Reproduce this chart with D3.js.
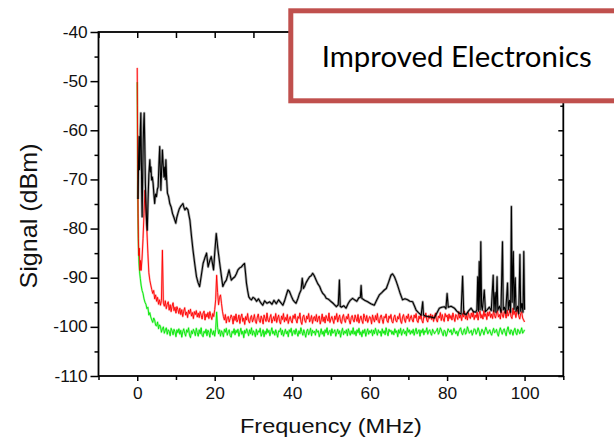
<!DOCTYPE html>
<html><head><meta charset="utf-8">
<script src="https://cdn.jsdelivr.net/npm/d3@7"></script>
<style>body{margin:0;background:#fff;} svg{display:block;}</style>
</head><body><svg id="c" width="614" height="439"></svg>
<script>
// ---------- data ----------
const xMajorTicks = [0, 20, 40, 60, 80, 100];
const xMinorTicks = [-10, 10, 30, 50, 70, 90, 110];
const yMajorTicks = [-110, -100, -90, -80, -70, -60, -50, -40];
const yMinorTicks = [-105, -95, -85, -75, -65, -55, -45];
const xTitle = "Frequency (MHz)";
const yTitle = "Signal (dBm)";
const boxText = "Improved Electronics";

// sampled grid for red / green traces (MHz)
const gridStart = 1.0, gridStep = 0.25;

const greenHead = [[0,-50.2],[0.05,-58],[0.1,-66],[0.15,-73],[0.2,-78],[0.3,-83.5],[0.45,-87],[0.6,-88.8],[0.8,-90.2]];
const greenValues = [
-91.5,-92.6,-93.2,-94.3,-95.0,-95.4,-96.3,-96.0,-97.6,-97.1,-98.0,-98.6,-99.1,-98.2,-98.6,-99.7,-99.8,-99.0,-100.4,-99.6,
-99.9,-101.1,-100.4,-100.0,-101.3,-100.7,-100.2,-101.5,-100.6,-100.9,-101.8,-100.3,-100.8,-101.6,-100.5,-101.0,-102.0,-100.6,-101.2,-100.4,
-101.5,-100.7,-102.1,-101.0,-100.4,-101.3,-101.9,-100.6,-101.1,-100.2,-101.7,-102.2,-100.8,-101.4,-100.5,-101.0,-101.8,-100.3,-101.2,-101.9,
-100.6,-101.4,-100.2,-101.7,-102.0,-100.9,-101.3,-100.5,-101.8,-100.7,-101.1,-102.1,-100.4,-101.0,-101.6,-100.8,-101.9,-100.5,-97.0,-100.1,
-101.4,-100.6,-101.9,-100.8,-101.2,-102.0,-100.5,-101.1,-100.3,-101.7,-101.0,-100.6,-101.8,-102.1,-100.9,-101.3,-100.4,-101.6,-100.7,-101.2,
-100.5,-101.9,-101.1,-100.3,-101.5,-100.9,-102.2,-100.7,-101.3,-100.4,-101.0,-101.8,-100.6,-101.4,-100.2,-101.7,-100.8,-101.2,-102.0,-100.5,
-101.6,-100.8,-101.1,-100.3,-101.9,-101.3,-100.6,-102.0,-100.9,-101.5,-100.4,-101.2,-100.7,-101.8,-101.0,-100.2,-101.4,-100.9,-101.7,-100.6,
-101.3,-102.1,-100.8,-101.0,-100.3,-101.6,-100.7,-101.9,-101.2,-100.5,-101.4,-100.9,-102.0,-100.6,-101.1,-100.3,-101.8,-101.0,-100.7,-101.5,
-100.4,-101.2,-101.9,-100.8,-101.4,-100.2,-101.0,-101.7,-100.6,-101.3,-102.1,-100.9,-100.5,-101.6,-101.1,-100.3,-101.8,-100.7,-101.2,-100.9,
-101.7,-100.5,-101.1,-100.8,-102.0,-101.3,-100.4,-101.5,-100.9,-101.9,-100.6,-101.2,-100.2,-101.6,-101.0,-100.7,-101.8,-100.4,-101.3,-101.0,
-100.6,-101.9,-101.2,-100.5,-101.4,-100.8,-102.1,-101.0,-100.3,-101.6,-100.9,-101.3,-100.6,-101.8,-100.4,-101.1,-101.7,-100.8,-101.4,-100.2,
-101.5,-100.9,-101.8,-100.6,-101.2,-100.3,-101.6,-101.0,-102.0,-100.7,-101.3,-100.5,-101.9,-101.1,-100.4,-101.5,-100.8,-101.2,-100.6,-101.8,
-100.7,-101.4,-100.3,-101.0,-101.7,-100.6,-101.2,-100.9,-101.9,-100.4,-101.3,-100.8,-101.6,-100.2,-101.1,-101.8,-100.5,-101.0,-100.7,-101.5,
-100.9,-101.6,-100.4,-101.2,-100.8,-102.0,-100.6,-101.3,-100.3,-101.7,-101.0,-100.5,-101.4,-100.9,-101.8,-100.2,-101.1,-100.6,-101.5,-100.8,
-101.3,-100.5,-101.7,-100.9,-100.3,-101.4,-101.0,-100.6,-101.9,-100.7,-101.2,-100.4,-101.6,-100.8,-101.1,-100.2,-101.5,-100.9,-100.6,-101.3,
-101.7,-100.5,-100.9,-101.4,-101.0,-100.8,-100.3,-101.5,-101.1,-100.2,-100.6,-101.3,-101.8,-100.7,-100.9,-101.9,-101.4,-100.4,-100.8,-101.1,
-100.6,-101.6,-101.2,-100.3,-100.9,-101.4,-100.9,-101.8,-101.0,-100.5,-100.2,-101.2,-101.6,-100.8,-100.4,-101.5,-101.2,-100.0,-100.6,-101.3,
-101.0,-100.7,-101.7,-101.1,-100.4,-100.6,-101.5,-101.0,-100.2,-100.8,-101.8,-101.2,-100.5,-100.9,-101.6,-100.8,-100.1,-100.7,-101.4,-101.0,
-100.6,-101.3,-101.7,-100.9,-100.3,-101.2,-101.0,-100.5,-101.4,-101.9,-100.8,-100.2,-100.9,-101.5,-100.7,-100.4,-101.2,-101.8,-100.6,-100.0,
-101.0,-101.5,-100.6,-100.9,-101.7,-100.8,-100.3,-101.2,-101.6,-100.5,-100.8,-101.4,-100.9,-100.2,-101.3,-101.0,-100.6
];

const redHead = [[0,-47.3],[0.05,-55],[0.1,-63],[0.15,-70],[0.22,-77],[0.3,-82],[0.4,-85.5],[0.55,-84],[0.7,-88.5],[0.85,-86.5]];
const redValues = [
-88.5,-86.0,-82.0,-77.0,-72.2,-76.0,-80.5,-85.0,-89.0,-90.5,-91.5,-92.4,-93.2,-92.6,-94.3,-93.5,-94.8,-94.0,-95.4,-94.5,
-95.6,-94.6,-84.4,-95.2,-95.8,-94.7,-96.3,-95.4,-94.9,-96.6,-95.5,-96.9,-95.8,-95.1,-96.7,-96.0,-97.2,-95.9,-96.5,-97.3,
-96.2,-97.5,-96.5,-97.9,-96.8,-96.1,-97.6,-97.0,-98.1,-96.6,-97.3,-96.4,-97.8,-97.1,-98.3,-96.9,-97.5,-96.7,-98.0,-97.2,
-98.1,-96.9,-97.6,-98.4,-97.2,-96.8,-98.6,-97.4,-98.0,-97.1,-98.3,-96.9,-97.8,-98.5,-97.3,-97.9,-96.5,-94.5,-89.5,-93.0,
-95.5,-94.0,-93.5,-95.2,-96.8,-97.9,-98.6,-97.5,-99.2,-98.1,-97.9,-99.0,-98.3,-97.6,-98.1,-99.4,-97.8,-98.7,-97.4,-99.0,
-98.5,-97.6,-99.3,-98.0,-97.4,-98.9,-98.2,-99.5,-97.9,-98.6,-97.3,-98.8,-99.2,-98.1,-97.7,-99.0,-98.4,-97.5,-98.9,-99.3,
-98.0,-97.4,-98.7,-99.1,-97.8,-98.4,-99.4,-97.6,-98.3,-98.9,-97.2,-98.6,-99.0,-98.1,-97.5,-99.2,-98.5,-97.9,-98.8,-97.3,
-99.1,-98.2,-97.6,-98.9,-99.4,-97.8,-98.5,-97.3,-99.0,-98.1,-98.7,-97.5,-99.3,-98.4,-97.9,-98.8,-99.2,-97.7,-98.3,-97.4,
-98.6,-99.2,-97.9,-98.3,-97.2,-98.9,-99.5,-98.0,-97.6,-98.7,-99.1,-97.8,-98.4,-97.3,-99.0,-98.5,-97.7,-99.3,-98.2,-97.9,
-98.8,-97.5,-99.0,-98.2,-97.8,-99.4,-98.6,-97.4,-98.9,-98.0,-99.2,-97.7,-98.3,-98.8,-97.2,-99.1,-98.4,-97.9,-98.6,-99.3,
-97.8,-98.5,-97.3,-99.0,-98.2,-97.6,-98.9,-99.3,-98.0,-97.5,-98.7,-99.1,-97.9,-98.4,-97.4,-98.8,-99.4,-98.1,-97.7,-98.6,
-99.0,-97.6,-98.3,-98.9,-97.5,-99.2,-98.4,-97.8,-98.7,-99.3,-97.4,-98.1,-98.8,-97.7,-99.1,-98.5,-97.9,-98.2,-99.4,-97.6,
-98.4,-99.0,-97.7,-98.6,-97.3,-98.9,-99.2,-98.0,-97.6,-98.5,-99.3,-97.9,-98.2,-97.4,-98.8,-99.1,-97.8,-98.3,-97.5,-98.9,
-99.2,-98.1,-97.6,-98.7,-99.0,-97.9,-98.4,-97.3,-98.8,-99.3,-98.0,-97.5,-98.6,-99.1,-97.8,-98.3,-97.4,-98.9,-98.2,-97.7,
-98.6,-99.0,-97.6,-98.2,-97.3,-98.8,-99.1,-97.8,-98.4,-97.5,-98.7,-99.2,-97.9,-98.1,-97.2,-98.6,-99.0,-97.7,-98.3,-97.4,
-98.5,-97.6,-98.9,-97.9,-97.2,-98.6,-99.0,-97.8,-98.2,-97.1,-98.7,-97.5,-98.4,-98.9,-97.3,-98.0,-97.6,-98.8,-97.4,-98.3,
-97.7,-98.6,-97.2,-98.1,-98.9,-97.5,-97.9,-98.5,-96.9,-98.2,-97.6,-98.7,-97.3,-98.0,-96.8,-98.4,-97.7,-98.6,-97.1,-97.9,
-98.3,-97.2,-98.0,-96.9,-98.5,-97.6,-98.1,-97.0,-98.6,-97.4,-96.8,-98.2,-97.5,-98.4,-96.7,-97.9,-97.3,-98.5,-97.0,-97.8,
-96.9,-98.1,-97.4,-98.3,-96.6,-97.7,-98.2,-97.1,-96.7,-98.0,-97.5,-98.4,-96.5,-97.6,-98.1,-96.9,-97.3,-98.2,-96.6,-97.8,
-97.2,-96.4,-97.9,-98.3,-96.2,-97.5,-96.8,-98.1,-97.0,-96.5,-97.8,-98.4,-97.3,-96.9,-98.2,-98.6,-99.0
];

// black trace, [MHz, dBm]
const blackTrace = [
[0.2,-74],[0.35,-66],[0.5,-61.3],[0.6,-68],[0.7,-66],[0.8,-60],[0.93,-56.5],[1.05,-64],[1.15,-72],[1.27,-77.6],
[1.4,-70],[1.55,-62],[1.7,-58],[1.8,-56.5],[1.95,-63],[2.1,-70.8],[2.3,-76],[2.45,-79],[2.6,-80.3],[2.8,-74],
[3.0,-69],[3.25,-66],[3.4,-68.5],[3.55,-67.5],[3.7,-70.1],[3.9,-69.5],[4.1,-70.8],[4.3,-73],[4.5,-74.9],[4.7,-73],
[4.97,-73.5],[5.2,-72],[5.4,-71.5],[5.6,-67],[5.8,-63.3],[5.95,-68],[6.1,-72.2],[6.3,-68],[6.5,-64.0],[6.7,-67],
[6.9,-69.5],[7.1,-67.5],[7.25,-70],[7.4,-66],[7.6,-70],[7.8,-72.8],[8.1,-73.5],[8.4,-74.9],[8.75,-75.6],[9.1,-76.9],
[9.5,-77.8],[9.95,-78.9],[10.2,-77.8],[10.5,-76.9],[10.85,-76.0],[11.2,-75.5],[11.5,-75.2],[11.8,-74.9],[12.05,-75.7],[12.3,-76.2],
[12.7,-75.8],[13.1,-76.2],[13.35,-77.3],[13.6,-78.3],[14.0,-81.5],[14.4,-84.4],[14.85,-87.2],[15.3,-89.8],[15.7,-91.0],[16.1,-91.8],
[16.55,-89.5],[17.0,-87.1],[17.45,-86.0],[17.9,-85.0],[18.3,-87.8],[18.7,-86.6],[19.1,-85.7],[19.4,-87.0],[19.7,-88.4],[20.05,-84.5],
[20.4,-81.0],[20.8,-84],[21.3,-87.1],[21.7,-89.5],[22.1,-91.8],[22.55,-91.0],[23.0,-90.5],[23.35,-89.5],[23.7,-88.4],[24.0,-89.5],
[24.3,-90.5],[24.75,-90.1],[25.2,-89.8],[25.6,-89.2],[26.0,-88.4],[26.45,-88.0],[26.9,-87.8],[27.3,-87.4],[27.7,-87.1],[27.95,-89],
[28.2,-91.1],[28.5,-92.6],[28.8,-93.9],[29.15,-94.3],[29.5,-94.5],[29.9,-94.0],[30.3,-94.2],[30.8,-94.8],[31.3,-94.3],[31.8,-95.0],
[32.4,-95.6],[32.9,-94.7],[33.5,-95.2],[34.2,-94.9],[34.8,-95.4],[35.3,-94.6],[35.9,-95.3],[36.5,-94.5],[37.0,-95.0],[37.6,-95.6],
[38.0,-94.8],[38.5,-93.5],[38.9,-92.5],[39.3,-92.8],[39.8,-93.8],[40.2,-94.5],[40.6,-94.9],[41.0,-95.2],[41.5,-94.2],[41.9,-93.2],
[42.3,-92.5],[42.6,-90.1],[42.9,-92.2],[43.2,-91.8],[43.6,-91.0],[44.1,-90.3],[44.5,-89.8],[44.9,-89.6],[45.3,-89.1],[45.7,-89.6],
[46.2,-90.5],[46.6,-91.2],[47.1,-91.8],[47.5,-92.6],[47.9,-93.2],[48.4,-93.6],[48.8,-94.2],[49.4,-94.4],[50.1,-94.9],[50.7,-95.3],
[51.4,-95.9],[51.9,-95.5],[52.2,-90.5],[52.4,-95.8],[52.7,-96.0],[53.3,-95.7],[53.9,-96.2],[54.5,-95.2],[55.0,-94.6],[55.6,-94.2],
[56.1,-94.5],[56.7,-94.8],[57.2,-94.1],[57.6,-94.0],[57.8,-91.6],[58.0,-94.2],[58.7,-94.6],[59.5,-94.9],[60.3,-95.3],[61.2,-95.6],
[61.8,-94.6],[62.5,-93.5],[63.2,-93.0],[63.8,-92.5],[64.3,-92.2],[64.9,-90.9],[65.5,-89.5],[65.9,-89.2],[66.4,-89.8],[66.8,-90.6],
[67.2,-91.5],[67.8,-93.0],[68.5,-94.5],[69.1,-94.3],[69.8,-94.5],[70.4,-94.8],[71.1,-94.9],[71.6,-95.8],[72.0,-96.6],[72.6,-97.1],
[73.3,-97.6],[73.7,-94.9],[73.9,-97.6],[74.4,-97.8],[75.0,-97.9],[75.8,-98.0],[76.7,-98.2],[77.3,-97.3],[78.0,-96.2],[78.6,-96.0],
[79.3,-95.9],[79.7,-96.3],[80.0,-93.2],[80.3,-96.0],[81.0,-95.8],[81.9,-96.2],[82.5,-96.8],[83.1,-97.2],[83.6,-97.4],[84.0,-89.7],
[84.3,-97.3],[84.9,-97.5],[85.5,-96.8],[86.2,-96.2],[86.8,-96.9],[87.4,-97.0],[87.7,-96.5],[87.9,-89.8],[88.1,-96.8],[88.3,-86.7],
[88.5,-96.5],[88.7,-82.7],[88.9,-95.8],[89.1,-96.6],[89.6,-92.5],[89.9,-96.9],[90.4,-96.5],[90.9,-96.0],[91.4,-96.7],[91.9,-89.5],
[92.1,-96.8],[92.4,-93.0],[92.6,-97.0],[92.9,-89.8],[93.1,-96.6],[93.5,-95.8],[93.9,-97.0],[94.3,-82.7],[94.5,-96.5],[94.8,-96.0],
[95.1,-97.2],[95.6,-91.1],[95.8,-96.5],[96.1,-94.6],[96.4,-97.0],[96.6,-75.5],[96.8,-95.0],[97.1,-84.7],[97.3,-96.4],[97.6,-90.0],
[97.8,-96.8],[98.2,-95.8],[98.5,-97.3],[98.8,-85.3],[99.0,-96.8],[99.3,-95.2],[99.6,-97.0],[99.8,-84.7],[100,-96.5]
];

// ---------- chart ----------
const svg = d3.select("#c");
const L = 98.5, R = 563.3, T = 32, B = 376;
const x = d3.scaleLinear().domain([-10, 110]).range([L, R]);
const y = d3.scaleLinear().domain([-110, -40]).range([B, T]);
const FONT = "'Liberation Sans', Arial, sans-serif";
const fmt = d => String(d);

function gridSeries(head, vals) {
  return head.concat(vals.map((v, i) => [gridStart + i * gridStep, v]));
}
const greenData = gridSeries(greenHead, greenValues);
const redData = gridSeries(redHead, redValues);

const line = d3.line().x(d => x(d[0])).y(d => y(d[1]));

function trace(data, color, w, haloW, haloO) {
  svg.append("path").datum(data).attr("d", line)
    .attr("fill", "none").attr("stroke", color).attr("stroke-width", haloW)
    .attr("stroke-opacity", haloO).attr("stroke-linejoin", "round");
  svg.append("path").datum(data).attr("d", line)
    .attr("fill", "none").attr("stroke", color).attr("stroke-width", w)
    .attr("stroke-linejoin", "round");
}
trace(greenData, "#00e600", 0.9, 2.0, 0.3);
trace(redData, "#ff0000", 0.9, 2.0, 0.3);
trace(blackTrace, "#000000", 1.1, 2.6, 0.35);

function styleAxis(g) {
  g.select(".domain").remove();
  g.selectAll(".tick line").attr("stroke", "#000").attr("stroke-width", 1.5);
  g.selectAll("text").attr("font-family", FONT).attr("font-size", 16).attr("fill", "#111");
}

// left axis
svg.append("g").attr("transform", `translate(${L},0)`)
  .call(d3.axisLeft(y).tickValues(yMajorTicks).tickSize(8).tickPadding(2).tickFormat(fmt))
  .call(styleAxis)
  .call(g => g.selectAll("text").attr("transform", "scale(1.08,1)"));
svg.append("g").attr("transform", `translate(${L},0)`)
  .call(d3.axisLeft(y).tickValues(yMinorTicks).tickSize(4).tickFormat(""))
  .call(styleAxis);

// bottom axis
svg.append("g").attr("transform", `translate(0,${B})`)
  .call(d3.axisBottom(x).tickValues(xMajorTicks).tickSize(5).tickPadding(7).tickFormat(fmt))
  .call(styleAxis)
  .call(g => g.selectAll("text").attr("transform", "scale(1.08,1)"));
svg.append("g").attr("transform", `translate(0,${B})`)
  .call(d3.axisBottom(x).tickValues(xMinorTicks).tickSize(4).tickFormat(""))
  .call(styleAxis);

// top axis (inward)
svg.append("g").attr("transform", `translate(0,${T})`)
  .call(d3.axisTop(x).tickValues(xMajorTicks.concat(xMinorTicks)).tickSize(-6).tickFormat(""))
  .call(styleAxis);

// right axis (inward)
svg.append("g").attr("transform", `translate(${R},0)`)
  .call(d3.axisRight(y).tickValues(yMajorTicks).tickSize(-5).tickFormat(""))
  .call(styleAxis);
svg.append("g").attr("transform", `translate(${R},0)`)
  .call(d3.axisRight(y).tickValues(yMinorTicks).tickSize(-3).tickFormat(""))
  .call(styleAxis);

// frame
svg.append("rect").attr("x", L).attr("y", T).attr("width", R - L).attr("height", B - T)
  .attr("fill", "none").attr("stroke", "#000").attr("stroke-width", 1.8);

// axis titles
svg.append("text").attr("x", (L + R) / 2).attr("y", 433)
  .attr("text-anchor", "middle").attr("font-family", FONT).attr("font-size", 21)
  .attr("textLength", 182).attr("lengthAdjust", "spacingAndGlyphs").attr("fill", "#111")
  .text(xTitle);
svg.append("text").attr("transform", "translate(36.5,216) rotate(-90)")
  .attr("text-anchor", "middle").attr("font-family", FONT).attr("font-size", 24)
  .attr("textLength", 145).attr("lengthAdjust", "spacingAndGlyphs").attr("fill", "#111")
  .text(yTitle);

// annotation box
svg.append("rect").attr("x", 290.8).attr("y", 10.8).attr("width", 400).attr("height", 90)
  .attr("fill", "#fff").attr("stroke", "#c0504d").attr("stroke-width", 5);
svg.append("text").attr("x", 456.7).attr("y", 66.7).attr("text-anchor", "middle")
  .attr("font-family", "Lato, 'Open Sans', sans-serif").attr("font-size", 28)
  .attr("textLength", 270).attr("lengthAdjust", "spacingAndGlyphs").attr("fill", "#000")
  .text(boxText);
</script>
</body></html>
